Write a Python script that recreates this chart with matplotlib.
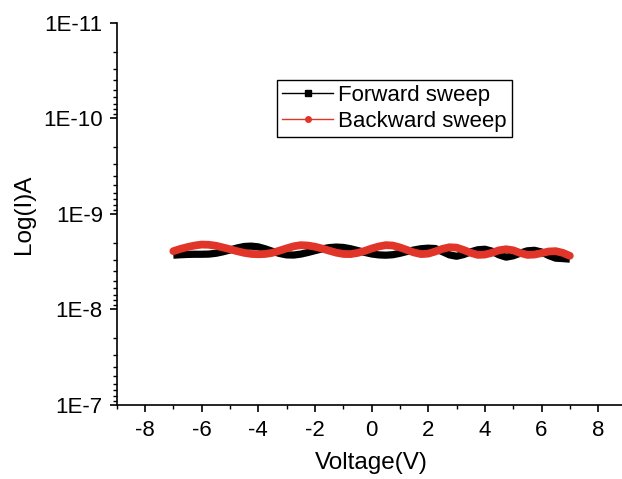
import numpy as np
import matplotlib.pyplot as plt
from matplotlib.lines import Line2D
from matplotlib.ticker import LogLocator, FixedLocator, NullFormatter

plt.rcParams['font.family'] = ['Liberation Sans', 'DejaVu Sans']
plt.rcParams['axes.unicode_minus'] = False

# voltage sweep (V)
voltage = [-7.0, -6.75, -6.5, -6.25, -6.0, -5.75, -5.5, -5.25, -5.0, -4.75,
           -4.5, -4.25, -4.0, -3.75, -3.5, -3.25, -3.0, -2.75, -2.5, -2.25,
           -2.0, -1.75, -1.5, -1.25, -1.0, -0.75, -0.5, -0.25, 0.0, 0.25,
           0.5, 0.75, 1.0, 1.25, 1.5, 1.75, 2.0, 2.25, 2.5, 2.75,
           3.0, 3.25, 3.5, 3.75, 4.0, 4.25, 4.5, 4.75, 5.0, 5.25,
           5.5, 5.75, 6.0, 6.25, 6.5, 6.75, 7.0]

# current in units of 1e-9 A
forward_nA = [2.70, 2.67, 2.65, 2.64, 2.64, 2.63, 2.58, 2.49, 2.38, 2.27,
              2.19, 2.17, 2.21, 2.32, 2.46, 2.59, 2.68, 2.69, 2.63, 2.53,
              2.42, 2.32, 2.25, 2.22, 2.24, 2.31, 2.41, 2.52, 2.62, 2.68,
              2.70, 2.67, 2.58, 2.47, 2.38, 2.31, 2.28, 2.30, 2.48, 2.68,
              2.77, 2.66, 2.49, 2.37, 2.34, 2.45, 2.68, 2.83, 2.74, 2.57,
              2.43, 2.40, 2.50, 2.72, 2.90, 2.93, 2.97]

backward_nA = [2.45, 2.32, 2.22, 2.14, 2.09, 2.10, 2.15, 2.24, 2.34, 2.45,
               2.55, 2.62, 2.64, 2.62, 2.55, 2.42, 2.29, 2.18, 2.12, 2.14,
               2.20, 2.30, 2.42, 2.54, 2.62, 2.63, 2.56, 2.44, 2.30, 2.19,
               2.12, 2.14, 2.24, 2.38, 2.53, 2.63, 2.60, 2.47, 2.32, 2.23,
               2.25, 2.38, 2.55, 2.68, 2.66, 2.55, 2.40, 2.34, 2.40, 2.56,
               2.68, 2.66, 2.57, 2.47, 2.45, 2.55, 2.74]

V = np.array(voltage)
I_fwd = np.array(forward_nA) * 1e-9
I_bwd = np.array(backward_nA) * 1e-9

red = '#e03528'

fig = plt.figure(figsize=(6.22, 4.79), dpi=100)
ax = fig.add_axes([0.1876, 0.1545, 0.8196, 0.7975])

ax.plot(V, I_fwd, color='black', lw=5.2, solid_capstyle='butt')
ax.plot(V, I_bwd, color=red, lw=5.6, solid_capstyle='round')

ax.set_yscale('log')
ax.set_ylim(1e-7, 1e-11)
ax.set_xlim(-9, 9)

ax.xaxis.set_major_locator(FixedLocator([-8, -6, -4, -2, 0, 2, 4, 6, 8]))
ax.xaxis.set_minor_locator(FixedLocator([-9, -7, -5, -3, -1, 1, 3, 5, 7]))
ax.yaxis.set_major_locator(FixedLocator([1e-11, 1e-10, 1e-9, 1e-8, 1e-7]))
ax.yaxis.set_minor_locator(LogLocator(base=10, subs=np.arange(2, 10)))
ax.yaxis.set_minor_formatter(NullFormatter())
ax.set_yticklabels(['1E-11', '1E-10', '1E-9', '1E-8', '1E-7'])

for s in ['top', 'right']:
    ax.spines[s].set_visible(False)
ax.spines['left'].set_linewidth(1.2)
ax.spines['bottom'].set_linewidth(1.2)
ax.tick_params(which='major', direction='out', length=5, width=1.2, labelsize=16)
ax.tick_params(which='minor', direction='out', length=3, width=1.0)
ax.tick_params(axis='y', which='major', pad=5)
ax.tick_params(axis='x', which='major', pad=5.5)

ax.set_xlabel('Voltage(V)', fontsize=17.5, labelpad=8)
ax.set_ylabel('Log(I)A', fontsize=17.5, labelpad=6)

handles = [Line2D([], [], color='black', lw=1, marker='s', markersize=4),
           Line2D([], [], color=red, lw=1, marker='o', markersize=4)]
leg = ax.legend(handles, ['Forward sweep', 'Backward sweep'],
                loc='upper left', bbox_to_anchor=(0.314, 0.852),
                fontsize=16, frameon=True, fancybox=False, framealpha=1,
                handlelength=2.3, handletextpad=0.2, borderpad=0.25,
                labelspacing=0.2, borderaxespad=0)
leg.get_frame().set_edgecolor('black')
leg.get_frame().set_linewidth(1.0)

fig.savefig('out.png', dpi=100)
